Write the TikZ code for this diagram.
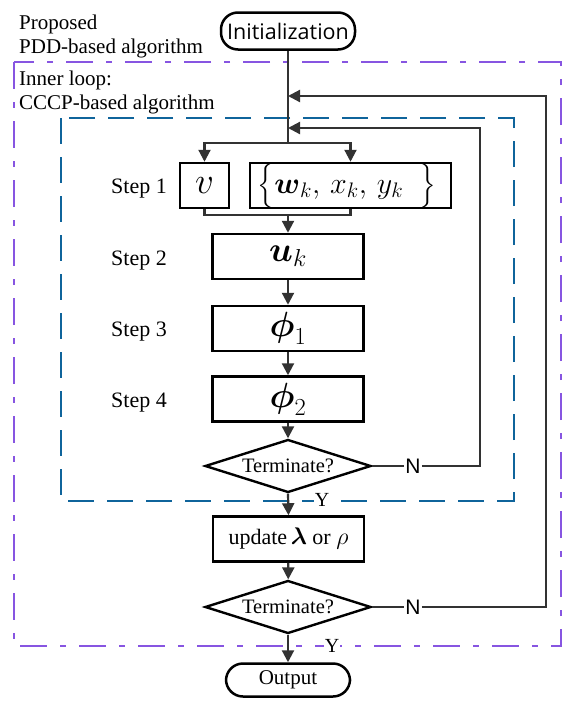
\RequirePackage{fix-cm}
\documentclass[tikz,border=0pt]{standalone}
\usepackage{amsmath}
\usepackage{fontspec}
\usetikzlibrary{arrows.meta,shapes.geometric}
\newfontfamily\tnr{Liberation Serif}
\newfontfamily\osans{Open Sans}
\newfontfamily\arialf{Liberation Sans}
\definecolor{lineg}{RGB}{50,50,50}
\definecolor{bluedash}{RGB}{15,100,155}
\definecolor{purpdash}{RGB}{135,85,225}
\tikzset{
  lbl/.style={inner sep=0pt, font=\tnr\fontsize{21}{25}\selectfont},
  stepl/.style={inner sep=0pt, anchor=base east, font=\tnr\fontsize{22}{26}\selectfont},
  box/.style={draw=black, line width=2.5pt, minimum width=151pt, minimum height=45pt, inner sep=0pt},
  mathf/.style={font=\fontsize{35}{40}\selectfont},
  term/.style={draw=black, line width=2.5pt, rounded corners=17pt, inner sep=0pt},
  dia/.style={draw=black, line width=2.4pt, shape=diamond, aspect=3.1, inner sep=0pt,
     minimum width=166pt, minimum height=53pt, font=\tnr\fontsize{20.5}{24}\selectfont},
  conn/.style={draw=lineg, line width=2.2pt},
  arr/.style={conn, -{Triangle[length=12pt,width=12pt]}},
  nlbl/.style={inner sep=1pt, font=\arialf\fontsize{21}{25}\selectfont},
  ylbl/.style={inner sep=1pt, fill=white, font=\tnr\fontsize{20}{24}\selectfont},
  purpframe/.style={draw=purpdash, line width=2.6pt, dash pattern=on 27pt off 13pt on 6pt off 13pt},
  blueframe/.style={draw=bluedash, line width=2.6pt, dash pattern=on 26pt off 13pt}
}
\begin{document}
\begin{tikzpicture}[x=1pt,y=-1pt]
\useasboundingbox (0,0) rectangle (581,707);
% frames
\draw[purpframe] (14,62) rectangle (561,646);
\draw[blueframe] (61,118) rectangle (514,501);
% frame labels
\node[lbl, anchor=base west] (prop1) at (19,29) {Proposed};
\node[lbl, anchor=base west] (prop2) at (19,53) {PDD-based algorithm};
\node[lbl, anchor=base west] (inner1) at (19,85) {Inner loop:};
\node[lbl, anchor=base west] (inner2) at (19,109) {CCCP-based algorithm};
% nodes
\node[term, minimum width=134pt, minimum height=37pt, font=\osans\fontsize{21.5}{25}\selectfont] (init) at (288,31) {Initialization};
\node[box, minimum width=49pt, font=\fontsize{37}{40}\selectfont] (v) at (204.5,185.5) {$v$};
\node[box, minimum width=201pt, font=\fontsize{30}{36}\selectfont] (w) at (350.5,185.5) {\hspace{-7pt}$\bigl\{\boldsymbol{w}_k,\, x_k,\, y_k\hspace{0.55em}\bigr\}$};
\node[box, mathf] (u) at (288,256.5) {$\boldsymbol{u}_k$};
\node[box, mathf] (p1) at (288,328.5) {$\boldsymbol{\phi}_1$};
\node[box, mathf] (p2) at (288,399) {$\boldsymbol{\phi}_2$};
\node[dia] (d1) at (288,466) {Terminate?};
\node[box, font=\tnr\fontsize{22}{26}\selectfont] (upd) at (288.5,539) {update\,{\fontsize{24}{28}\selectfont$\boldsymbol{\lambda}$} or {\fontsize{24}{28}\selectfont$\rho$}};
\node[dia] (d2) at (288,607) {Terminate?};
\node[term, minimum width=124pt, minimum height=33pt, font=\tnr\fontsize{21}{25}\selectfont] (out) at (288,680) {Output};
% step labels
\node[stepl] (s1) at (167,193) {Step 1};
\node[stepl] (s2) at (167,265) {Step 2};
\node[stepl] (s3) at (167,336) {Step 3};
\node[stepl] (s4) at (167,407) {Step 4};
% N / Y labels
\node[nlbl] (n1) at (413,466) {N};
\node[nlbl] (n2) at (413,607) {N};
\node[ylbl] (y1) at (322,500) {Y};
\node[ylbl] (y2) at (332,646) {Y};
% coordinates
\coordinate (split) at (288,143);
\coordinate (merge) at (288,215);
\coordinate (fb1) at (480,128);
\coordinate (j1) at (288,128);
\coordinate (fb2) at (546,96);
\coordinate (j2) at (288,96);
% connectors
\draw[conn] (init.south) -- (split);
\draw[arr] (split) -| (v.north);
\draw[arr] (split) -| (w.north);
\draw[conn] (v.south) |- (merge);
\draw[conn] (w.south) |- (merge);
\draw[arr] (merge) -- (u.north);
\draw[arr] (u) -- (p1);
\draw[arr] (p1) -- (p2);
\draw[arr] (p2) -- (d1);
\draw[arr] (d1.south) -- (upd.north);
\draw[arr] (upd) -- (d2);
\draw[arr] (d2.south) -- (out.north);
\draw[conn] (d1.east) -- (n1.west);
\draw[arr] (n1.east) -| (fb1) -- (j1);
\draw[conn] (d2.east) -- (n2.west);
\draw[arr] (n2.east) -| (fb2) -- (j2);
\end{tikzpicture}
\end{document}
